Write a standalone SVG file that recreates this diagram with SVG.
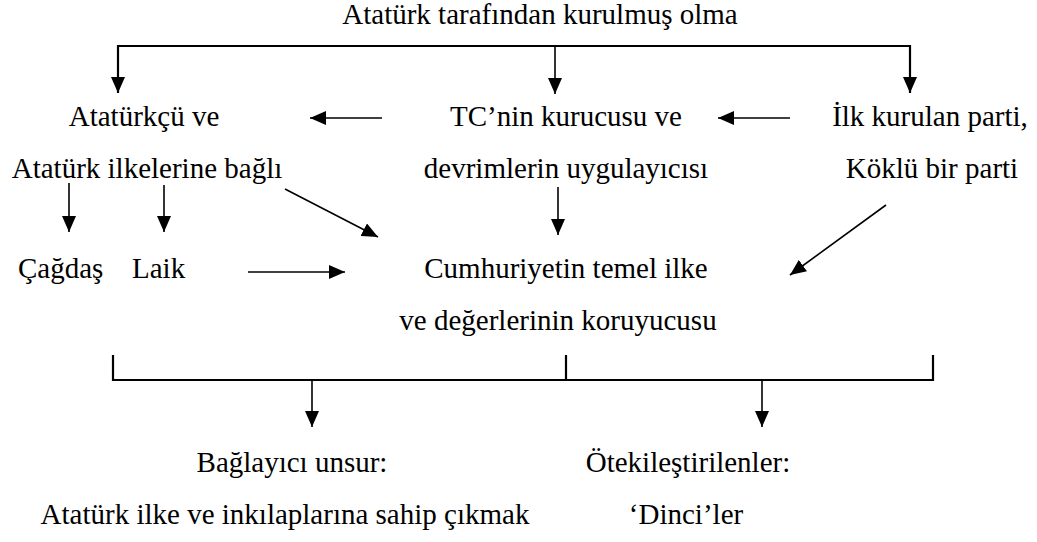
<svg xmlns="http://www.w3.org/2000/svg" width="1037" height="542" viewBox="0 0 1037 542">
<style>
text{font-size:29px;fill:#000}
.m{text-anchor:middle}
.br{stroke:#000;stroke-width:2.2;fill:none}
.ar{stroke:#000;stroke-width:1.6;fill:none;marker-end:url(#ah)}
</style>
<defs>
<marker id="ah" markerUnits="userSpaceOnUse" markerWidth="16" markerHeight="14" refX="16" refY="7" orient="auto">
<path d="M0,0 L16,7 L0,14 z" fill="#000"/>
</marker>
</defs>
<g font-family="'Liberation Serif', Tinos, 'Times New Roman', 'DejaVu Serif', serif">
<g id="n-title"><text class="m" x="540" y="24">Atatürk tarafından kurulmuş olma</text></g>
<g id="n-ataturkcu"><text class="m" x="144" y="126">Atatürkçü ve</text><text class="m" x="147" y="178">Atatürk ilkelerine bağlı</text></g>
<g id="n-tc"><text class="m" x="566" y="126">TC’nin kurucusu ve</text><text class="m" x="566" y="178">devrimlerin uygulayıcısı</text></g>
<g id="n-ilk"><text class="m" x="930" y="126">İlk kurulan parti,</text><text class="m" x="932" y="178">Köklü bir parti</text></g>
<g id="n-cagdas"><text x="18" y="278">Çağdaş</text></g>
<g id="n-laik"><text x="132" y="278">Laik</text></g>
<g id="n-cumhuriyet"><text class="m" x="566" y="278">Cumhuriyetin temel ilke</text><text class="m" x="558" y="330">ve değerlerinin koruyucusu</text></g>
<g id="n-baglayici"><text class="m" x="292" y="472">Bağlayıcı unsur:</text><text class="m" x="285" y="524">Atatürk ilke ve inkılaplarına sahip çıkmak</text></g>
<g id="n-oteki"><text class="m" x="688" y="472">Ötekileştirilenler:</text><text class="m" x="686" y="524">‘Dinci’ler</text></g>
</g>
<g id="connectors">
<path class="br" d="M118,93 V46 H910 V93"/>
<line class="ar" x1="118" y1="46" x2="118" y2="93"/>
<line class="ar" x1="555" y1="46" x2="555" y2="94"/>
<line class="ar" x1="910" y1="46" x2="910" y2="93"/>
<line class="ar" x1="382" y1="118" x2="310" y2="118"/>
<line class="ar" x1="790" y1="118" x2="718" y2="118"/>
<line class="ar" x1="69" y1="183" x2="69" y2="232"/>
<line class="ar" x1="164" y1="185" x2="164" y2="232"/>
<line class="ar" x1="285" y1="189" x2="378" y2="237"/>
<line class="ar" x1="558" y1="187" x2="558" y2="235"/>
<line class="ar" x1="886" y1="205" x2="790" y2="275"/>
<line class="ar" x1="248" y1="272" x2="345" y2="272"/>
<path class="br" d="M113,355 V380 H933 V355 M566,355 V380"/>
<line class="ar" x1="312" y1="380" x2="312" y2="427"/>
<line class="ar" x1="762" y1="380" x2="762" y2="427"/>
</g>
</svg>
